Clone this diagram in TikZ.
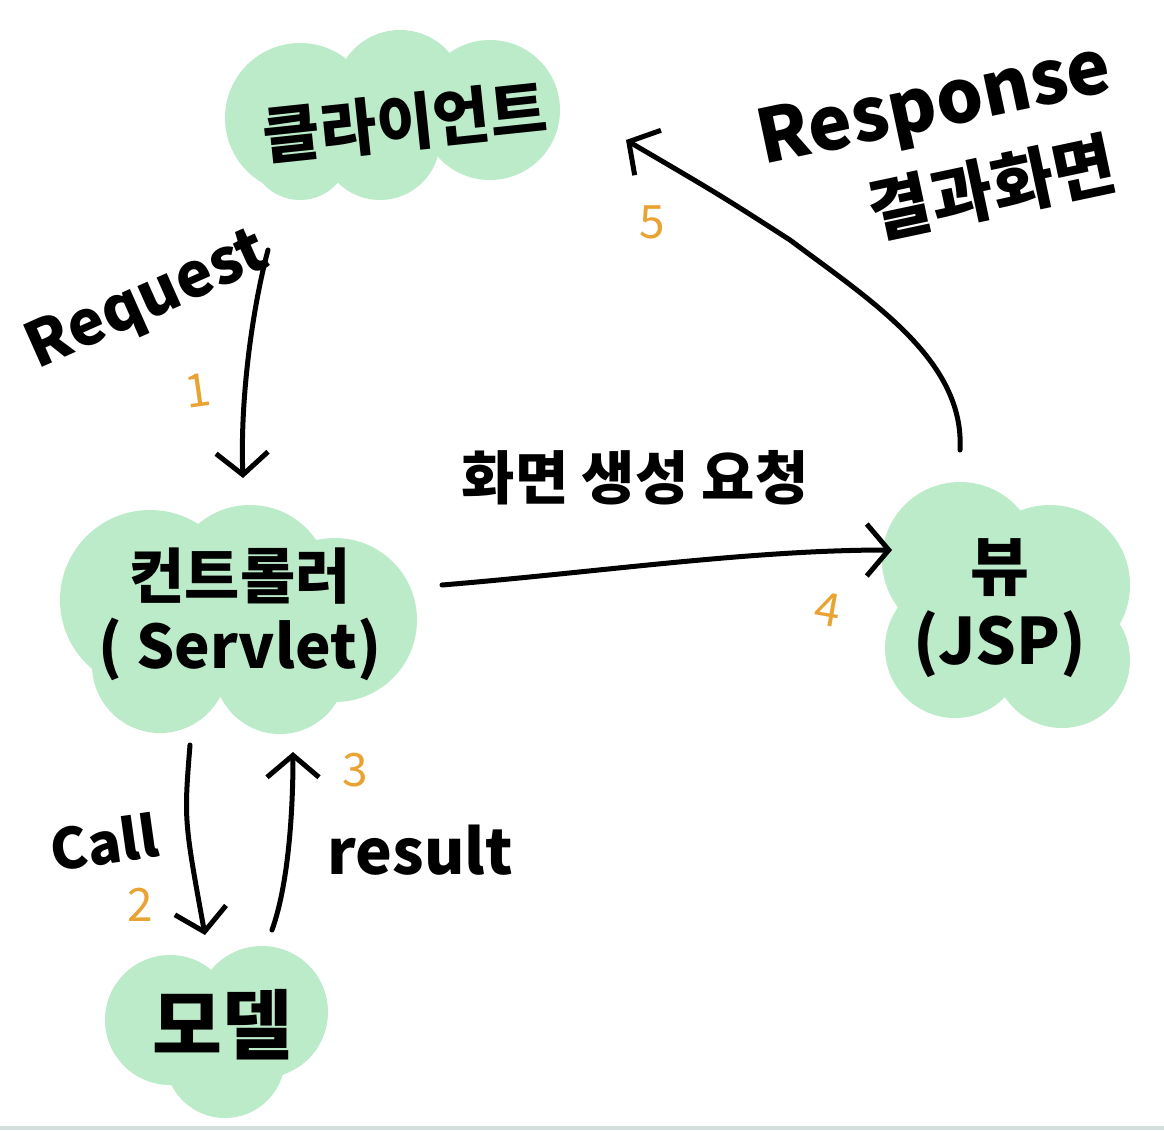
\documentclass[tikz,border=0pt]{standalone}
\usepackage{fontspec}
\setmainfont{Noto Sans CJK KR}
\usetikzlibrary{arrows.meta}
\definecolor{blob}{HTML}{BCEBC9}
\definecolor{num}{HTML}{E9A332}
\definecolor{strip}{HTML}{D0DFDA}
\begin{document}
\begin{tikzpicture}[x=1pt,y=-1pt,
  arr/.style={line width=5pt,line cap=round,black,-{Straight Barb[length=22pt,width=52pt,line width=5pt]}},
  lbl/.style={inner sep=0pt,font=\bfseries\fontsize{56}{60}\selectfont},
  numlbl/.style={inner sep=0pt,text=num,font=\fontsize{46}{50}\selectfont}]
\useasboundingbox (0,0) rectangle (1164,1130);
\fill[white] (0,0) rectangle (1164,1130);
\fill[strip] (0,1126) rectangle (1164,1130);
% blobs
\fill[blob] (300,118) circle[radius=75] (400,95) circle[radius=65] (490,110) circle[radius=70] (380,140) circle[radius=60] (300,150) circle[radius=50];
\fill[blob] (150,600) circle[radius=90] (250,585) circle[radius=80] (335,620) circle[radius=82] (160,665) circle[radius=68] (280,668) circle[radius=66];
\fill[blob] (960,560) circle[radius=78] (1050,585) circle[radius=80] (955,648) circle[radius=70] (1062,660) circle[radius=68];
\fill[blob] (170,1020) circle[radius=65] (262,1012) circle[radius=66] (225,1058) circle[radius=60];
% nodes
\node[lbl,rotate=6,font=\bfseries\fontsize{62}{66}\selectfont] (client) at (405,122) {클라이언트};
\node[lbl,font=\bfseries\fontsize{60}{66}\selectfont] (ctrl) at (240,618) {\begin{tabular}{c}컨트롤러\\( Servlet)\end{tabular}};
\node[lbl,font=\bfseries\fontsize{64}{68}\selectfont] (view) at (1000,612) {\begin{tabular}{c}뷰\\(JSP)\end{tabular}};
\node[lbl,font=\bfseries\fontsize{76}{80}\selectfont] (model) at (222,1025) {모델};
% labels
\node[lbl,rotate=24,font=\bfseries\fontsize{62}{66}\selectfont] (req) at (148,302) {Request};
\node[numlbl,rotate=8] (n1) at (198,390) {1};
\node[lbl,rotate=8] (call) at (104,842) {Call};
\node[numlbl] (n2) at (140,905) {2};
\node[lbl,font=\bfseries\fontsize{62}{66}\selectfont] (res) at (420,850) {result};
\node[numlbl] (n3) at (355,770) {3};
\node[lbl,font=\bfseries\fontsize{58}{62}\selectfont] (gen) at (635,478) {화면 생성 요청};
\node[numlbl,rotate=-10] (n4) at (828,610) {4};
\node[lbl,rotate=12,font=\bfseries\fontsize{74}{78}\selectfont] (resp) at (935,108) {Response};
\node[lbl,rotate=12,font=\bfseries\fontsize{68}{72}\selectfont] (result2) at (992,188) {결과화면};
\node[numlbl] (n5) at (652,222) {5};
% connectors
\coordinate (a1s) at (268,250); \coordinate (a1e) at (243,478);
\draw[arr] (a1s) .. controls (252,310) and (240,400) .. (a1e);
\coordinate (a2s) at (190,745); \coordinate (a2e) at (205,935);
\draw[arr] (a2s) .. controls (184,820) .. (a2e);
\coordinate (a3s) at (272,930); \coordinate (a3e) at (293,752);
\draw[arr] (a3s) .. controls (290,880) and (293,800) .. (a3e);
\coordinate (a4s) at (442,585); \coordinate (a4e) at (892,550);
\draw[arr] (a4s) .. controls (600,572) and (750,550) .. (a4e);
\coordinate (a5s) at (960,450); \coordinate (a5m) at (790,240); \coordinate (a5e) at (626,140);
\draw[arr] (a5s) .. controls (965,360) and (870,300) .. (a5m) .. controls (720,195) .. (a5e);
\end{tikzpicture}
\end{document}
